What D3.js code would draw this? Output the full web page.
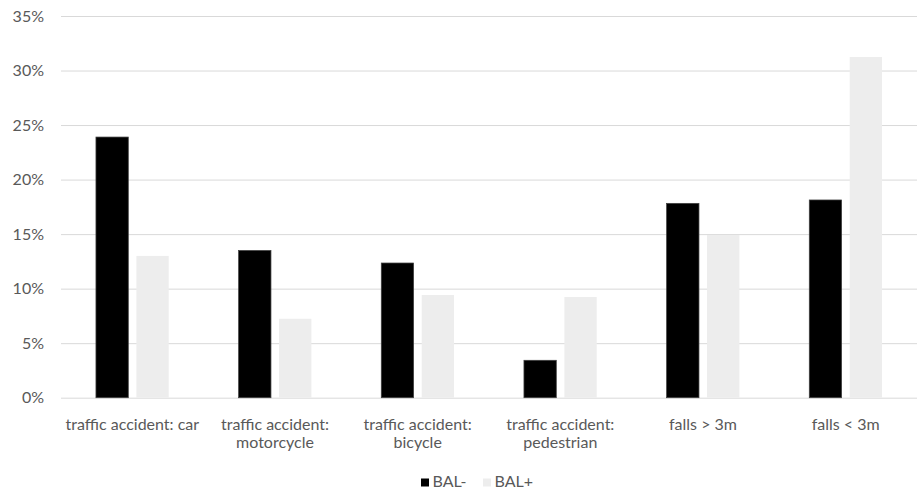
<!DOCTYPE html>
<html>
<head>
<meta charset="utf-8">
<script src="https://cdn.jsdelivr.net/npm/d3@7"></script>
<style>
  html, body { margin: 0; padding: 0; background: #fff; }
  svg { display: block; font-family: Lato, "Open Sans", sans-serif; }
</style>
</head>
<body>
<svg id="chart" width="920" height="492"></svg>
<script>
// Share of injury mechanism by blood alcohol status
const categories = [
  ["traffic accident: car"],
  ["traffic accident:", "motorcycle"],
  ["traffic accident:", "bicycle"],
  ["traffic accident:", "pedestrian"],
  ["falls > 3m"],
  ["falls < 3m"]
];
const seriesNames = ["BAL-", "BAL+"];
const balNeg = [23.9, 13.5, 12.35, 3.43, 17.82, 18.13];
const balPos = [13.0, 7.24, 9.42, 9.23, 14.92, 31.24];
const yTicks = [0, 5, 10, 15, 20, 25, 30, 35];
const seriesColors = ["#000000", "#ededed"];

const svg = d3.select("#chart");
const plot = { left: 61, right: 917, top: 16, bottom: 397.7 };
const textColor = "#595959";
const fontSize = "16px";

const x0 = d3.scaleBand()
  .domain(d3.range(categories.length))
  .range([plot.left, plot.right])
  .paddingInner(0.49)
  .paddingOuter(0.245);
const x1 = d3.scaleBand()
  .domain(d3.range(seriesNames.length))
  .range([0, x0.bandwidth()])
  .paddingInner(0.2);
const y = d3.scaleLinear().domain([0, 35]).range([plot.bottom, plot.top]);

// Gridlines and y-axis labels
const yAxis = d3.axisLeft(y)
  .tickValues(yTicks)
  .tickSize(-(plot.right - plot.left))
  .tickFormat(d => d + "%");
const yg = svg.append("g").attr("transform", `translate(${plot.left},0)`).call(yAxis);
yg.select(".domain").remove();
yg.selectAll(".tick line").attr("stroke", "#d9d9d9").attr("stroke-width", 1);
yg.selectAll(".tick text")
  .attr("x", -17)
  .attr("fill", textColor)
  .style("font-size", fontSize)
  .style("font-family", "Lato, 'Open Sans', sans-serif");

// Bars
const data = categories.map((c, i) => [balNeg[i], balPos[i]]);
const groups = svg.append("g").selectAll("g")
  .data(data)
  .join("g")
  .attr("transform", (d, i) => `translate(${x0(i)},0)`);
groups.selectAll("rect")
  .data(d => d.map((v, s) => ({ v, s })))
  .join("rect")
  .attr("x", d => x1(d.s))
  .attr("width", x1.bandwidth())
  .attr("y", d => y(d.v))
  .attr("height", d => y(0) - y(d.v))
  .attr("fill", d => seriesColors[d.s])
  .attr("stroke", d => d.s === 0 ? "#404040" : "none")
  .attr("stroke-width", 0.75);

// Category labels
const xg = svg.append("g");
categories.forEach((lines, i) => {
  const cx = x0(i) + x0.bandwidth() / 2;
  const t = xg.append("text")
    .attr("x", cx)
    .attr("y", 430)
    .attr("text-anchor", "middle")
    .attr("fill", textColor)
    .style("font-size", fontSize);
  lines.forEach((ln, k) => {
    t.append("tspan").attr("x", cx).attr("dy", k === 0 ? 0 : 17.5).text(ln);
  });
});

// Legend
const legend = svg.append("g").attr("transform", "translate(421,478.5)");
const legendX = [0, 62];
seriesNames.forEach((name, s) => {
  const g = legend.append("g").attr("transform", `translate(${legendX[s]},0)`);
  g.append("rect").attr("width", 8).attr("height", 8)
    .attr("fill", seriesColors[s]);
  g.append("text").attr("x", 11.5).attr("y", 8)
    .attr("fill", textColor).style("font-size", fontSize).text(name);
});
</script>
</body>
</html>
